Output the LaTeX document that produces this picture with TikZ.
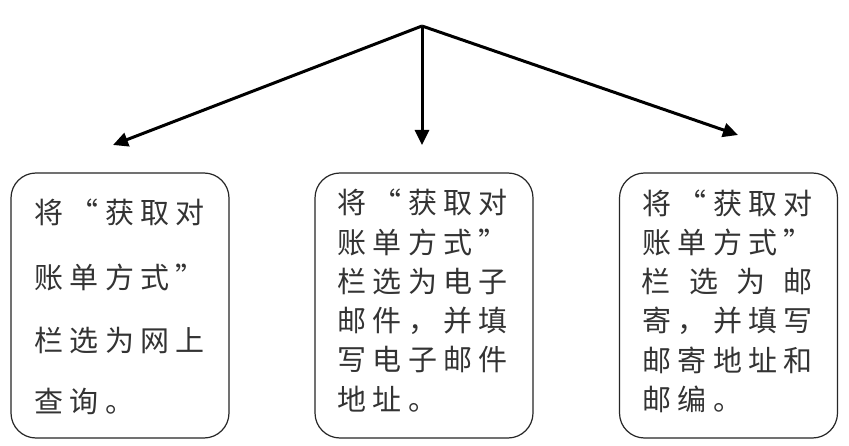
\documentclass[tikz,border=0pt]{standalone}
\usepackage{fontspec}
\newfontfamily\cjk{Noto Sans CJK SC}
\usetikzlibrary{arrows.meta}
\newcommand\cc[1]{\makebox[35.3pt]{#1}}
\newcommand\cw[1]{\makebox[47.3pt]{#1}}
\begin{document}
\begin{tikzpicture}[x=1pt,y=-1pt,
  box/.style={draw=black!85,line width=1.2pt,rounded corners=25pt,minimum width=218pt,minimum height=265pt,inner sep=0pt},
  txt/.style={anchor=west,inner sep=0pt,font=\cjk\fontsize{29}{29}\selectfont,text=black!80,text height=0.88em,text depth=0.12em},
  arr/.style={line width=3pt,-{Triangle[length=15pt,width=14pt]}}]
\useasboundingbox[fill=white] (0,0) rectangle (849,446);
\coordinate (top) at (422,26);
\coordinate (tipL) at (113,145);
\coordinate (tipM) at (422,145);
\coordinate (tipR) at (738,135);
\draw[arr] (top) -- (tipL);
\draw[arr] (top) -- (tipM);
\draw[arr] (top) -- (tipR);
\node[box] (bL) at (120,305.5) {};
\node[box] (bM) at (424,305.5) {};
\node[box] (bR) at (728.5,305.5) {};
% left box
\node[txt] (l1) at (31.35,220) {\cc{将}\cc{“}\cc{获}\cc{取}\cc{对}};
\node[txt] (l2) at (31.35,285) {\cc{账}\cc{单}\cc{方}\cc{式}\cc{”}};
\node[txt] (l3) at (31.35,348) {\cc{栏}\cc{选}\cc{为}\cc{网}\cc{上}};
\node[txt] (l4) at (31.35,409) {\cc{查}\cc{询}\cc{。}};
% middle box
\node[txt] (m1) at (334.35,210) {\cc{将}\cc{“}\cc{获}\cc{取}\cc{对}};
\node[txt] (m2) at (334.35,250) {\cc{账}\cc{单}\cc{方}\cc{式}\cc{”}};
\node[txt] (m3) at (334.35,289) {\cc{栏}\cc{选}\cc{为}\cc{电}\cc{子}};
\node[txt] (m4) at (334.35,328) {\cc{邮}\cc{件}\cc{，}\cc{并}\cc{填}};
\node[txt] (m5) at (334.35,367) {\cc{写}\cc{电}\cc{子}\cc{邮}\cc{件}};
\node[txt] (m6) at (334.35,407) {\cc{地}\cc{址}\cc{。}};
% right box
\node[txt] (r1) at (639.35,211) {\cc{将}\cc{“}\cc{获}\cc{取}\cc{对}};
\node[txt] (r2) at (639.35,250) {\cc{账}\cc{单}\cc{方}\cc{式}\cc{”}};
\node[txt] (r3) at (632.35,289) {\cw{栏}\cw{选}\cw{为}\cw{邮}};
\node[txt] (r4) at (639.35,328) {\cc{寄}\cc{，}\cc{并}\cc{填}\cc{写}};
\node[txt] (r5) at (639.35,368) {\cc{邮}\cc{寄}\cc{地}\cc{址}\cc{和}};
\node[txt] (r6) at (639.35,407) {\cc{邮}\cc{编}\cc{。}};
\end{tikzpicture}
\end{document}
